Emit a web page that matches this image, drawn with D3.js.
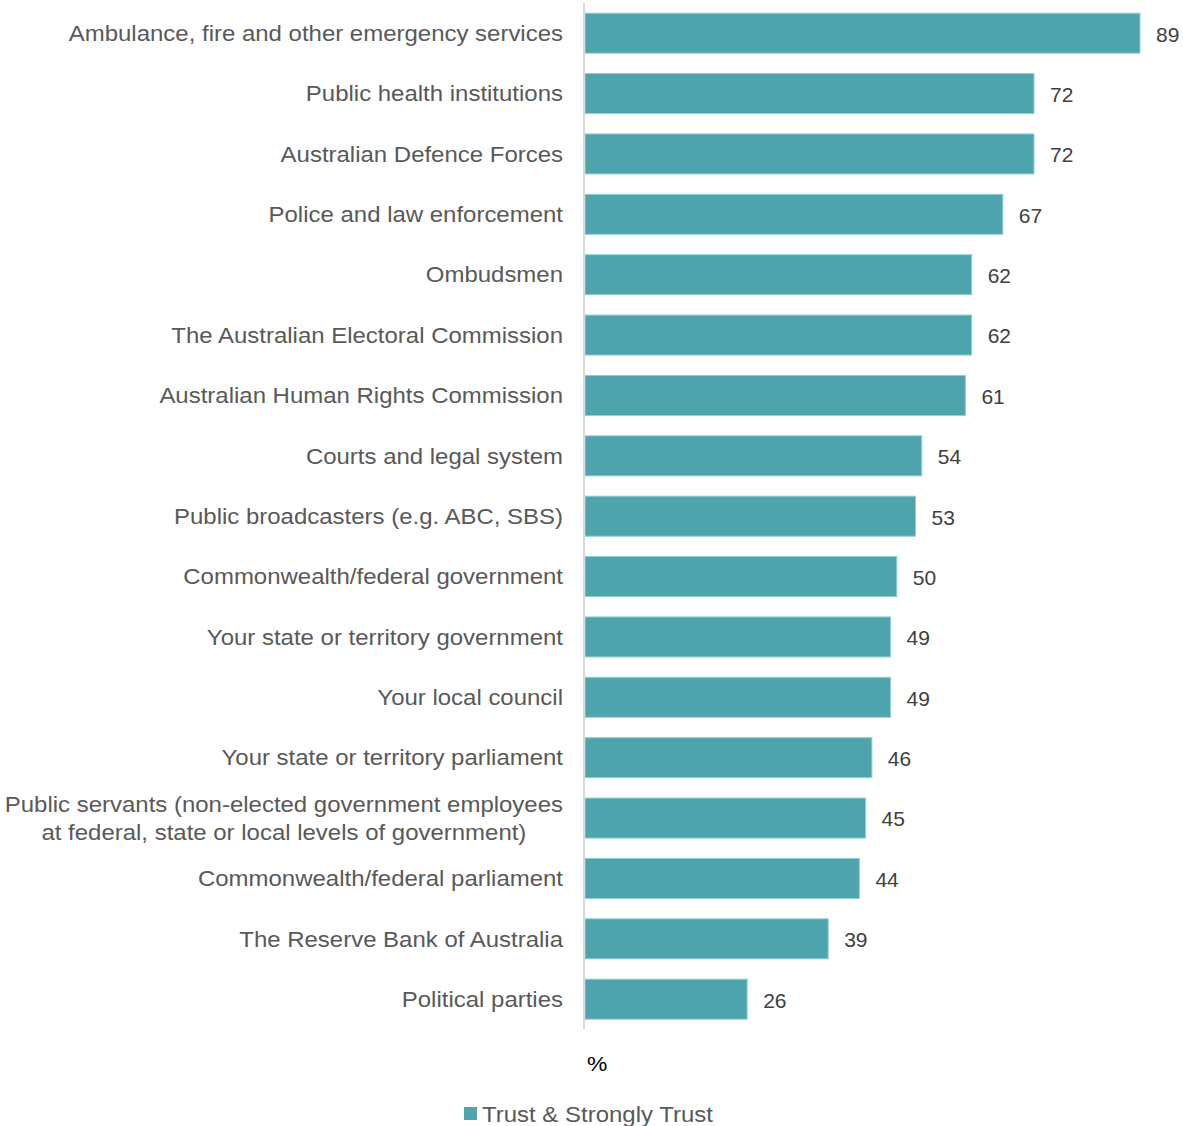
<!DOCTYPE html>
<html><head><meta charset="utf-8">
<script src="https://cdn.jsdelivr.net/npm/d3@7"></script>
<style>body{margin:0;background:#fff}</style>
</head><body>
<svg id="c" width="1183" height="1126"></svg>
<script>
const categories = [
  "Ambulance, fire and other emergency services",
  "Public health institutions",
  "Australian Defence Forces",
  "Police and law enforcement",
  "Ombudsmen",
  "The Australian Electoral Commission",
  "Australian Human Rights Commission",
  "Courts and legal system",
  "Public broadcasters (e.g. ABC, SBS)",
  "Commonwealth/federal government",
  "Your state or territory government",
  "Your local council",
  "Your state or territory parliament",
  "Public servants (non-elected government employees\nat federal, state or local levels of government)",
  "Commonwealth/federal parliament",
  "The Reserve Bank of Australia",
  "Political parties"
];
const values = [89,72,72,67,62,62,61,54,53,50,49,49,46,45,44,39,26];
const seriesName = "Trust & Strongly Trust";
const axisUnit = "%";

const svg = d3.select("#c");
const font = "'Liberation Sans', Arial, sans-serif";
const sx = 1.09;
const x0 = 585;
const x = d3.scaleLinear().domain([0, 89]).range([x0, 1140]);
const step = 60.375;
const p = 20.375/step;
const y = d3.scaleBand().domain(categories).range([3, 3 + step*categories.length])
  .paddingInner(p).paddingOuter(p/2);

// bars
svg.append("g").selectAll("rect").data(values).join("rect")
  .attr("x", x(0)).attr("y", (d,i)=>y(categories[i]))
  .attr("width", d=>x(d)-x(0)).attr("height", y.bandwidth())
  .attr("fill", "#4ea4ac").attr("stroke", "#8fd0d6").attr("stroke-width", 1);

// axis line
svg.append("line").attr("x1", 584).attr("x2", 584).attr("y1", 3).attr("y2", 1029)
  .attr("stroke", "#d9d9d9").attr("stroke-width", 2);

// category labels
const lg = svg.append("g").attr("font-family", font).attr("font-size", 22).attr("fill", "#595959");
categories.forEach((c, i) => {
  const cy = y(c) + y.bandwidth()/2;
  const lines = c.split("\n");
  const g = lg.append("g").attr("transform", `translate(563,${cy}) scale(${sx},1)`);
  if (lines.length === 1) {
    g.append("text").attr("x", 0).attr("y", 0).attr("dy", "0.35em")
      .attr("text-anchor", "end").text(c);
  } else {
    const t1 = g.append("text").attr("x", 0).attr("y", -14).attr("dy", "0.35em")
      .attr("text-anchor", "end").text(lines[0]);
    const w = t1.node().getComputedTextLength();
    g.append("text").attr("x", -w/2).attr("y", 14).attr("dy", "0.35em")
      .attr("text-anchor", "middle").text(lines[1]);
  }
});

// value labels
svg.append("g").attr("font-family", font).attr("font-size", 21).attr("fill", "#404040")
  .selectAll("text").data(values).join("text")
  .attr("x", d => x(d) + 16).attr("y", (d,i)=>y(categories[i]) + y.bandwidth()/2 + 1)
  .attr("dy", "0.35em").text(d=>d);

// unit
svg.append("g").attr("transform", `translate(587,1064) scale(${sx},1)`)
  .append("text").attr("dy", "0.35em")
  .attr("font-family", font).attr("font-size", 21).attr("fill", "#000").text(axisUnit);

// legend
svg.append("rect").attr("x", 464).attr("y", 1107).attr("width", 13).attr("height", 13).attr("fill", "#4ea4ac");
svg.append("g").attr("transform", `translate(482,1114) scale(${sx},1)`)
  .append("text").attr("dy", "0.35em")
  .attr("font-family", font).attr("font-size", 22).attr("fill", "#595959").text(seriesName);
</script>
</body></html>
